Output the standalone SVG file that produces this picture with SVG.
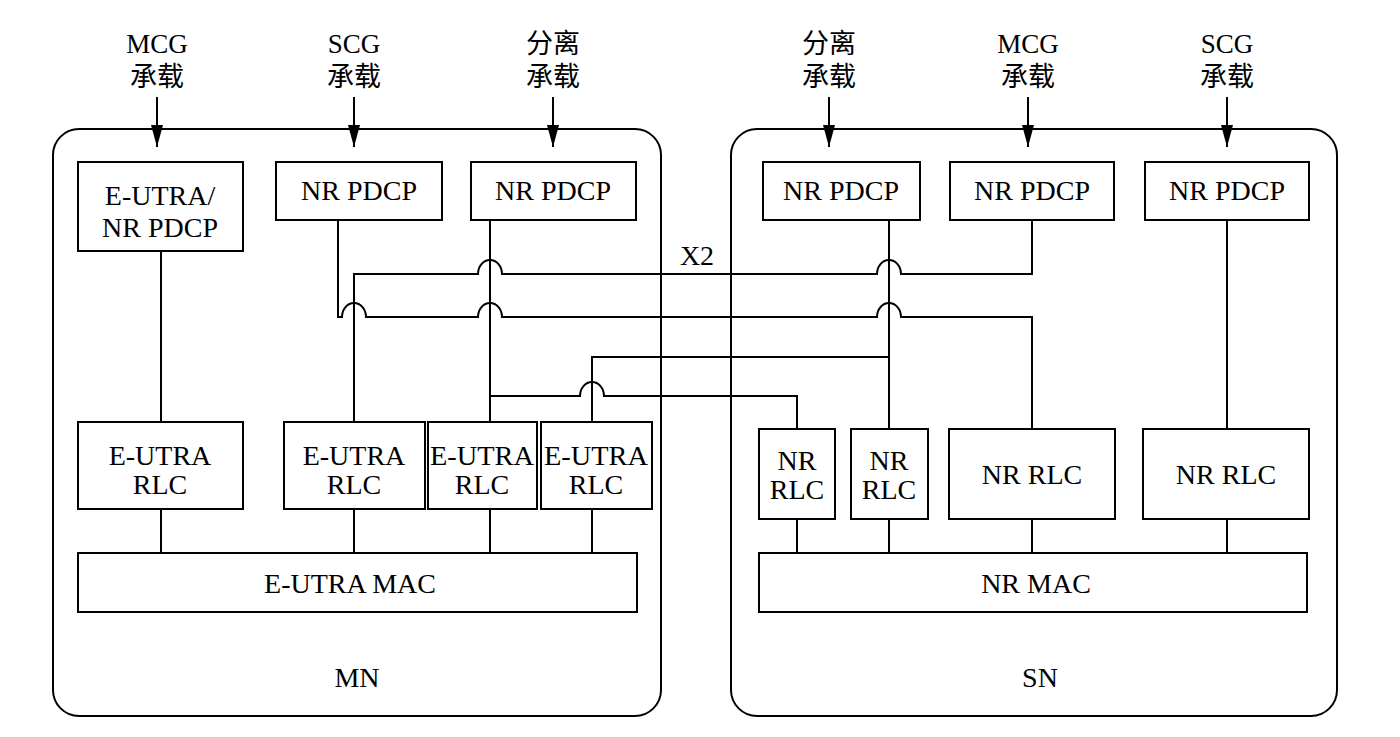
<svg xmlns="http://www.w3.org/2000/svg" width="1400" height="737" viewBox="0 0 1400 737">
<defs>
<marker id="ah" viewBox="0 0 22 12" refX="22" refY="6" markerWidth="22" markerHeight="12" markerUnits="userSpaceOnUse" orient="auto">
<path d="M0,0 L22,6 L0,12 z" fill="#000"/>
</marker>
<style>
.box{fill:#fff;stroke:#000;stroke-width:2}
.frame{fill:none;stroke:#000;stroke-width:2}
.ln{fill:none;stroke:#000;stroke-width:2}
.t{font-family:"Liberation Serif","Times New Roman",serif;font-size:28px;fill:#000;text-anchor:middle}
.c{font-family:"Liberation Serif","Noto Sans CJK SC",serif;font-size:27px;fill:#000;text-anchor:middle}
</style>
</defs>
<rect width="1400" height="737" fill="#fff"/>

<g id="MN">
<rect class="frame" x="53" y="129" width="608" height="587" rx="26"/>
<text class="t" x="357" y="687">MN</text>
</g>
<g id="SN">
<rect class="frame" x="731" y="129" width="606" height="587" rx="26"/>
<text class="t" x="1040" y="687">SN</text>
</g>

<g id="connectors">
<path class="ln" d="M157 97 V147" marker-end="url(#ah)"/>
<path class="ln" d="M354 97 V147" marker-end="url(#ah)"/>
<path class="ln" d="M553 97 V147" marker-end="url(#ah)"/>
<path class="ln" d="M829 97 V147" marker-end="url(#ah)"/>
<path class="ln" d="M1028 97 V147" marker-end="url(#ah)"/>
<path class="ln" d="M1227 97 V147" marker-end="url(#ah)"/>
<path class="ln" d="M161 251 V422"/>
<path class="ln" d="M338 220 V317 H342 A12 14 0 0 1 366 317 H478 A12 14 0 0 1 502 317 H877 A12 14 0 0 1 901 317 H1032 V429"/>
<path class="ln" d="M354 422 V274 H478 A12 14 0 0 1 502 274 H877 A12 14 0 0 1 901 274 H1032 V220"/>
<path class="ln" d="M490 220 V422"/>
<path class="ln" d="M490 396 H580 A12 14 0 0 1 604 396 H797 V429"/>
<path class="ln" d="M592 422 V357 H889"/>
<path class="ln" d="M889 220 V429"/>
<path class="ln" d="M1227 220 V429"/>
<path class="ln" d="M161 509 V553 M354 509 V553 M490 509 V553 M592 509 V553"/>
<path class="ln" d="M797 519 V553 M889 519 V553 M1032 519 V553 M1227 519 V553"/>
<text class="t" x="697" y="265">X2</text>
</g>

<g id="lbl-mn-mcg"><text class="c" x="157" y="53">MCG</text><text class="c" x="157" y="86">承载</text></g>
<g id="lbl-mn-scg"><text class="c" x="354" y="53">SCG</text><text class="c" x="354" y="86">承载</text></g>
<g id="lbl-mn-split"><text class="c" x="553" y="53">分离</text><text class="c" x="553" y="86">承载</text></g>
<g id="lbl-sn-split"><text class="c" x="829" y="53">分离</text><text class="c" x="829" y="86">承载</text></g>
<g id="lbl-sn-mcg"><text class="c" x="1028" y="53">MCG</text><text class="c" x="1028" y="86">承载</text></g>
<g id="lbl-sn-scg"><text class="c" x="1227" y="53">SCG</text><text class="c" x="1227" y="86">承载</text></g>

<g id="mn-pdcp1"><rect class="box" x="78" y="162" width="165" height="89"/><text class="t" x="160" y="205">E-UTRA/</text><text class="t" x="160" y="237">NR PDCP</text></g>
<g id="mn-pdcp2"><rect class="box" x="276" y="162" width="166" height="58"/><text class="t" x="359" y="200">NR PDCP</text></g>
<g id="mn-pdcp3"><rect class="box" x="471" y="162" width="165" height="58"/><text class="t" x="553" y="200">NR PDCP</text></g>

<g id="mn-rlc1"><rect class="box" x="78" y="422" width="165" height="87"/><text class="t" x="160" y="465">E-UTRA</text><text class="t" x="160" y="494">RLC</text></g>
<g id="mn-rlc2"><rect class="box" x="284" y="422" width="141" height="87"/><text class="t" x="354" y="465">E-UTRA</text><text class="t" x="354" y="494">RLC</text></g>
<g id="mn-rlc3"><rect class="box" x="428" y="422" width="109" height="87"/><text class="t" x="482" y="465" textLength="104" lengthAdjust="spacingAndGlyphs">E-UTRA</text><text class="t" x="482" y="494">RLC</text></g>
<g id="mn-rlc4"><rect class="box" x="541" y="422" width="111" height="87"/><text class="t" x="596" y="465" textLength="104" lengthAdjust="spacingAndGlyphs">E-UTRA</text><text class="t" x="596" y="494">RLC</text></g>
<g id="mn-mac"><rect class="box" x="78" y="553" width="559" height="59"/><text class="t" x="350" y="593">E-UTRA MAC</text></g>

<g id="sn-pdcp1"><rect class="box" x="763" y="162" width="157" height="58"/><text class="t" x="841" y="200">NR PDCP</text></g>
<g id="sn-pdcp2"><rect class="box" x="950" y="162" width="164" height="58"/><text class="t" x="1032" y="200">NR PDCP</text></g>
<g id="sn-pdcp3"><rect class="box" x="1145" y="162" width="164" height="58"/><text class="t" x="1227" y="200">NR PDCP</text></g>

<g id="sn-rlc1"><rect class="box" x="759" y="429" width="76" height="90"/><text class="t" x="797" y="470">NR</text><text class="t" x="797" y="499">RLC</text></g>
<g id="sn-rlc2"><rect class="box" x="851" y="429" width="77" height="90"/><text class="t" x="889" y="470">NR</text><text class="t" x="889" y="499">RLC</text></g>
<g id="sn-rlc3"><rect class="box" x="949" y="429" width="166" height="90"/><text class="t" x="1032" y="484">NR RLC</text></g>
<g id="sn-rlc4"><rect class="box" x="1143" y="429" width="166" height="90"/><text class="t" x="1226" y="484">NR RLC</text></g>
<g id="sn-mac"><rect class="box" x="759" y="553" width="548" height="59"/><text class="t" x="1036" y="593">NR MAC</text></g>
</svg>
